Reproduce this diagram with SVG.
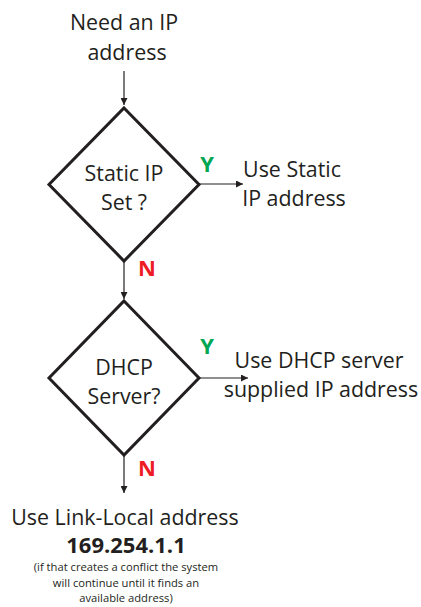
<svg xmlns="http://www.w3.org/2000/svg" width="421" height="607" viewBox="0 0 421 607">
<style>
  text { font-family: "Open Sans", "Noto Sans", "Liberation Sans", sans-serif; fill: #231f20; text-anchor: middle; }
  .t { font-size: 21.4px; }
  .yes { fill: #00a651; font-weight: bold; font-size: 22px; }
  .no { fill: #ed1c24; font-weight: bold; font-size: 22px; }
  .dia { fill: #ffffff; stroke: #231f20; stroke-width: 3; stroke-linejoin: miter; }
  .con { stroke: #231f20; stroke-width: 1.2; fill: none; }
  .small { font-size: 11.2px; }
</style>
<defs>
  <marker id="ah" viewBox="0 0 10 10" refX="10" refY="5" markerWidth="7" markerHeight="7" markerUnits="userSpaceOnUse" orient="auto">
    <path d="M0,0 L10,5 L0,10 z" fill="#231f20"/>
  </marker>
</defs>
<g id="connectors">
  <line class="con" x1="124" y1="71" x2="124" y2="105" marker-end="url(#ah)"/>
  <line class="con" x1="199" y1="184" x2="243" y2="184" marker-end="url(#ah)"/>
  <line class="con" x1="124" y1="261" x2="124" y2="299" marker-end="url(#ah)"/>
  <line class="con" x1="199" y1="378" x2="248" y2="378" marker-end="url(#ah)"/>
  <line class="con" x1="124" y1="455" x2="124" y2="493" marker-end="url(#ah)"/>
</g>
<g id="start">
  <text class="t" x="124" y="30">Need an IP</text>
  <text class="t" x="127" y="60">address</text>
</g>
<g id="static-decision">
  <polygon class="dia" points="124,108 199,184.5 124,261 49,184.5"/>
  <text class="t" x="124" y="181">Static IP</text>
  <text class="t" x="124" y="210">Set ?</text>
</g>
<g id="static-result">
  <text class="t" x="292" y="177">Use Static</text>
  <text class="t" x="294" y="206">IP address</text>
</g>
<g id="dhcp-decision">
  <polygon class="dia" points="124,301 199,378 124,455 49,378"/>
  <text class="t" x="124" y="375">DHCP</text>
  <text class="t" x="124" y="404">Server?</text>
</g>
<g id="dhcp-result">
  <text class="t" x="319" y="368">Use DHCP server</text>
  <text class="t" x="321" y="397">supplied IP address</text>
</g>
<g id="labels">
  <text class="yes" x="207" y="172">Y</text>
  <text class="no" x="147" y="276">N</text>
  <text class="yes" x="207" y="354">Y</text>
  <text class="no" x="147" y="476">N</text>
</g>
<g id="link-local">
  <text class="t" x="125" y="525">Use Link-Local address</text>
  <text x="126" y="553" style="font-size:22px;font-weight:bold">169.254.1.1</text>
  <text class="small" x="126" y="571">(if that creates a conflict the system</text>
  <text class="small" x="126" y="586.5">will  continue until it finds an</text>
  <text class="small" x="126" y="602">available address)</text>
</g>
</svg>
